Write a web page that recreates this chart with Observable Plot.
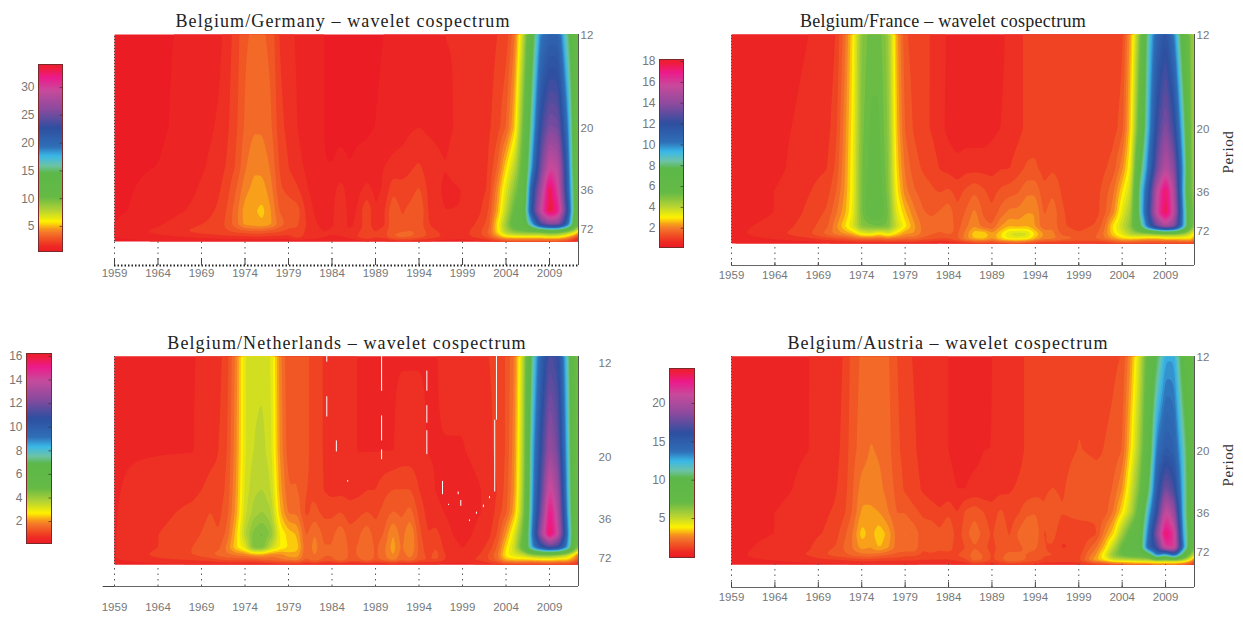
<!DOCTYPE html>
<html><head><meta charset="utf-8">
<script src="https://cdn.jsdelivr.net/npm/d3@7"></script>
<script src="https://cdn.jsdelivr.net/npm/@observablehq/plot@0.6"></script>
<style>
html,body{margin:0;background:#fff}
#page{position:relative;width:1243px;height:619px;overflow:hidden}
#page svg{position:absolute;background:transparent}
.ttl{position:absolute;font:18px "Liberation Serif",serif;letter-spacing:1.1px;color:#222;transform:translateX(-50%);white-space:nowrap;line-height:18px}
.per{position:absolute;font:15px "Liberation Serif",serif;letter-spacing:.6px;color:#333;transform:translate(-50%,-50%) rotate(-90deg);white-space:nowrap}
</style></head><body><div id="page"></div>
<script>
const years=[1959,1964,1968,1970,1971,1972,1973,1974,1975,1976,1977,1978,1979,1980,1981,1982,1983,1984,1985,1986,1987,1988,1989,1990,1991,1992,1993,1994,1995,1996,1997,1999,2001,2002,2003,2004,2005,2006,2007,2008,2009,2010,2011,2012,2012.33];
const periods=[12,20,28,36,50,66,80,95,110];
const periodTicks=[12,20,36,72];
const yearTicks=[1959,1964,1969,1974,1979,1984,1989,1994,1999,2004,2009];

const germany=[
[1,1,1.2,1.3,1.5, 2,2.6,3.4,3.6,3.6,3.3,2.2,1.9, 1.6,1.3,1.2,1.1,1,1,1,1,1,1, 1.1,1.2,1.2,1.3,1.3,1.4,1.5,1.7,1.7, 1.9,2,2.3, 2.5,4,8,14,19.5,21,21,16,12,11],
[1,1,1.3,1.6,1.8, 2.2,2.8,3.6,4,4,3.6,2.5,2.1, 1.7,1.4,1.2,1.1,1,1,1,1,1,1.1, 1.2,1.3,1.4,1.6,1.7,1.6,1.6,1.6,1.8, 2,2.2,2.6, 3.5,5.5,10.5,17,23.5,26,25.5,20,12,11],
[1,1.1,1.4,1.8,2, 2.4,3,4,4.6,4.5,4,2.8,2.3, 1.9,1.6,1.3,1.1,1.1,1.2,1.1,1.2,1.3,1.5, 1.7,1.9,2,2.2,2.4,2,1.8,1.7,1.9, 2.1,2.3,3.5, 5.8,8,11.5,19,25.5,30,29,21.5,12,12],
[1,1.2,1.6,2,2.2, 2.7,3.5,4.5,4.9,5,4.3,3,2.7, 2.4,1.8,1.4,1.2,1.4,2,1.3,1.5,1.9,1.5, 1.8,2.7,2.5,2.6,3,2.2,1.8,1.6,1.7, 2,2.4,4.5, 7,9.5,12,22,27.5,33.8,30,22,13,12],
[1,1.3,1.8,2.2,2.4, 3,3.9,5,5.2,5.5,4.7,3.4,3.3, 3.2,2.2,1.6,1.4,1.5,2.4,1.4,1.8,2.9,1.7, 2.2,3.5,2.8,3.1,3.6,2.3,1.8,1.7,1.7, 2.2,2.9,5, 8,11,13,23,29.5,34.2,32,23.5,13,12],
[1.1,1.6,2.2,2.4,2.6, 3.1,3.9,4.9,5,5.2,4.8,3.8,3.2, 3,2.3,1.8,1.5,1.6,2.2,1.5,1.9,2.7,1.8, 2.2,3.4,3,3,3.3,2.4,1.9,1.7,1.8, 2.5,3.2,6, 9,12,13,18,24,26,26,21,12,11],
[1.2,1.9,2.4,2.6,2.7, 2.8,3,3.1,3.3,3.2,3,2.9,2.6, 2.7,2.2,2,1.7,1.8,1.9,1.8,2.2,2.7,2.3, 2.7,3.4,3.5,3.6,3.4,2.8,2.4,2,2, 2.8,3.6,5.8, 8.5,9.5,10,10,10,11,10.5,9,7,5],
[1.1,1.4,1.7,1.8,1.9, 2,2,2,2.1,2.1,2,2,2, 2.6,2.1,2,1.8,1.6,1.6,1.9,2.4,3,2.5, 2.6,3.5,3.8,3.6,3.2,2.8,2.5,2.2,2, 2.6,3.2,4.5, 5.6,5.8,5.8,5.8,5.8,6,6,5,3,2],
[.9,1,1.1,1.1,1.1, 1.1,1.1,1.1,1.1,1.1,1.1,1.1,1.1, 1.1,1.1,1.1,1,1,1,1,1.1,1.2,1.1, 1.2,1.4,1.5,1.5,1.4,1.3,1.2,1.2,1.2, 1.3,1.5,1.8, 2.2,2.4,2.4,2.4,2.4,2.4,2.4,2.2,1.4,1]];

const france=[
[.6,.6,.8,.9,1.1, 1.9,3.1,5,5.5,5.5,4.8,2.6,1.5, 1.3,1.2,1.1,1,.7,.7,.6,.6,.6,.6, .7,.9,1,1.2,1.2,1.2,1.3,1.2,1.2, 1.2,1.2,1.25, 1.3,2.6,5,8.8,11,12,10.2,7,4.8,4.5],
[.6,.7,.9,1,1.3, 2.2,3.3,5.2,5.7,5.7,5,2.8,1.7, 1.4,1.2,1.1,.9,.7,.6,.6,.6,.6,.7, .8,.9,1,1.2,1.3,1.2,1.3,1.2,1.2, 1.2,1.2,1.3, 1.6,3,6,9.5,12.5,14,12.5,9,4.8,4.6],
[.6,.7,1,1.1,1.5, 2.3,3.4,5.3,5.8,5.8,5.1,3,2, 1.6,1.4,1.3,1.1,1,.9,1,1,1,1, 1.1,1.1,1.3,1.5,1.5,1.3,1.4,1.3,1.2, 1.2,1.4,1.6, 2.3,3.5,7.5,10.5,13.5,15.5,14,9.8,5,4.5],
[.6,.8,1.1,1.3,1.7, 2.4,3.4,5.3,5.9,5.9,5.2,3.2,2.2, 1.8,1.6,1.5,1.4,1.5,1.3,1.5,1.7,1.5,1.3, 1.5,1.6,1.7,2,2,1.5,1.7,1.4,1.2, 1.3,1.6,2, 3,4,8.5,11.5,15.5,17.8,15,9.5,5,4.8],
[.6,.8,1.2,1.5,2, 2.6,3.5,5.3,6,6,5.4,3.6,2.8, 2.2,1.8,1.7,1.8,2,1.5,1.8,2.2,1.7,1.5, 1.9,2.2,2.2,2.4,2.4,1.7,2,1.5,1.2, 1.3,1.7,2.3, 3.6,4.6,8.5,12,16,18,15.5,10,5.5,5],
[.7,.9,1.3,1.7,2.3, 3,3.8,5,5.2,5.4,5.2,4,3.2, 2.5,2,1.9,1.9,2,1.6,2,2.4,1.9,1.8, 2.4,2.7,2.6,2.7,2.4,1.8,2,1.5,1.3, 1.5,2,3.2, 4,5,7.5,11,13.5,15,14,10,5.5,4.6],
[.7,1,1.4,1.9,2.2, 2.4,2.7,3.4,3.6,3,3.6,3,2.4, 2.4,2,1.8,1.7,1.8,1.7,2.2,3,3.1,2.5, 3,3.8,4,3.9,3,2.4,2.2,1.7,1.5, 1.7,2.2,3, 3.6,4.4,4.6,4.6,4.8,5,5,4.6,3.6,3],
[.6,.8,1,1.2,1.3, 1.4,1.6,1.7,1.7,1.7,1.8,1.8,1.8, 1.8,1.6,1.5,1.4,1.4,1.7,2.3,2.7,2.8,2.4, 3,3.3,3.4,3.2,2.6,2.2,2.2,2,1.8, 1.8,2,2.4, 2.8,2.8,2.6,2.4,2.4,2.6,2.6,2.8,3,2],
[.4,.5,.5,.6,.6, .6,.6,.6,.6,.6,.6,.6,.6, .6,.6,.6,.5,.6,.6,.7,.9,.9,.9, 1,1.1,1.1,1,.9,.8,.8,.8,.8, .8,.9,1, 1.1,1.1,1,1,1,1,1,1,.9,.6]];

const netherlands=[
[.7,.7,.7,.8,.9, 1.2,2,3.3,3.5,3.5,3.3,2,1.3, 1.4,1.4,1.1,1,.8,.8,.8,.7,.7,.7, .7,.7,.7,.7,.7,.7,.7,.8,.8, .9,1,1.1, 1.3,1.9,3.8,7.5,10,11.5,11,8,5,4.6],
[.7,.7,.7,.9,1, 1.3,2.1,3.3,3.6,3.7,3.4,2.1,1.4, 1.5,1.4,1.1,1,.8,.8,.8,.7,.7,.7, .7,.7,.8,.8,.8,.7,.7,.7,.7, .8,.9,1.1, 1.3,2.1,4,8.4,11,13,12,8.5,5,4.6],
[.7,.8,.9,1.1,1.1, 1.4,2.2,3.4,3.8,3.9,3.6,2.3,1.6, 1.6,1.3,1.2,1,.9,.9,.9,.9,1,1, 1.2,1.3,1.3,1.3,1,.8,.7,.6,.6, .7,.8,1, 1.4,2.2,4.2,8.6,11.5,14.5,13,8.7,5.2,4.8],
[.7,.9,1.1,1.3,1.2, 1.5,2.3,3.5,4,4.2,3.9,2.5,1.8, 1.8,1.2,1.4,1.2,1.2,1.3,1.1,1.2,1.3,1.2, 1.4,1.6,1.5,1.7,1.2,.9,.8,.7,.6, .7,.8,1.1, 1.5,2.4,4.4,8.8,12,15.5,13.5,9,5.2,4.8],
[.7,1,1.2,1.4,1.3, 1.7,2.6,3.8,4.6,4.8,4.4,3,2.6, 2.4,1.5,1.9,1.5,1.5,1.8,1.4,1.5,1.8,1.4, 1.6,2.2,1.7,2.2,1.4,1,1.1,.8,.6, .8,.9,1.3, 2.2,3.3,5,9.2,13,16,14,9.5,5.3,5],
[.7,1,1.3,1.5,1.5, 2,2.7,3.2,4.7,4.7,3.6,3,2.7, 2.6,1.6,2,1.6,1.6,1.9,1.5,1.6,1.9,1.5, 1.8,2.3,1.8,2.2,1.5,1.1,1.3,.9,.7, .9,1.1,1.6, 2.7,3.6,5.5,8.8,10.5,11.5,11,9,5,4.5],
[.7,1.1,1.3,1.5,1.7, 1.8,1.9,2,2.2,2.2,2,2,2.3, 2.3,1.6,1.9,1.6,1.6,1.9,1.5,1.6,1.9,1.5, 1.8,2.2,1.7,2,1.5,1.2,1.4,1,.8, 1,1.3,1.8, 2.9,3.3,3.5,4.2,4.5,4.5,4.2,3.6,2.4,1.6],
[.7,.9,1,1.1,1.2, 1.3,1.3,1.3,1.3,1.5,1.6,1.8,1.9, 2,1.5,1.8,1.5,1.5,1.8,1.5,1.5,1.8,1.5, 1.7,2,1.6,1.8,1.4,1.3,1.3,1,.9, 1.1,1.3,1.7, 2.4,2.5,2.5,2.4,2.5,2.6,2.4,2.5,1.8,1.1],
[.5,.6,.6,.6,.6, .6,.6,.6,.6,.6,.6,.6,.6, .6,.6,.6,.5,.5,.5,.5,.5,.5,.5, .5,.5,.5,.5,.5,.5,.5,.5,.5, .6,.7,.8, .9,1,1,1,1,1,1,.9,.7,.5]];

const austria=[
[.7,.7,.8,.9,1, 1.3,1.9,2.2,2.3,2.3,2.2,1.7,1.4, 1.2,1.1,1,.9,.8,.7,.7,.7,.7,.8, .9,1,1.1,1.3,1.4,1.4,1.5,1.5,1.6, 1.5,1.5,1.6, 1.7,3,5,8,10.5,13,13,9.5,8,7.5],
[.7,.7,.8,1,1.1, 1.4,2,2.3,2.6,2.5,2.3,1.8,1.5, 1.3,1.1,1,.9,.8,.7,.7,.7,.8,.8, .9,1,1.1,1.3,1.4,1.5,1.6,1.5,1.7, 1.6,1.7,1.8, 2.1,3.9,6,9,14,15.5,15,12,8.5,8],
[.7,.7,.9,1.1,1.2, 1.5,2.1,2.8,2.8,2.7,2.4,2,1.6, 1.4,1.2,1,.9,.9,.8,.8,.9,.9,1, 1.1,1.2,1.3,1.4,1.5,1.6,1.7,1.6,2, 1.9,1.8,2.2, 3,4.9,7,10.5,15.5,18.5,17,12.5,8.5,8],
[.7,.8,1,1.2,1.3, 1.6,2.2,3.1,3.1,3,2.6,2.1,2.1, 1.8,1.6,1.5,1.3,1.6,1.2,1.8,2,1.7,1.4, 1.8,1.4,1.6,2,2.1,1.7,2.2,1.7,1.9, 1.8,1.9,2.6, 3.9,5.5,8,12.5,16.5,21.5,19.5,12.5,8.5,8],
[.7,.8,1.1,1.3,1.5, 2,2.6,3.7,3.2,3.8,3.3,2.4,2.6, 2.4,1.9,2,1.8,2.2,1.4,2,2.4,2,1.6, 2.1,1.6,2.2,2.6,2.5,1.6,1.9,1.3,1.3, 1.6,2.8,3.8, 6,8,9,14,19,24,22,13,9,8],
[.7,.9,1.2,1.6,1.7, 2.2,2.6,3.2,3,3.5,3.1,2.4,2.5, 2.5,1.7,1.9,1.8,1.9,1.4,1.7,2.1,1.8,1.5, 1.9,1.7,2,2.2,2.2,1.7,1.6,1.2,1.3, 2.5,3.6,5.5, 7.5,8.5,9,15,17,22,22,14,8,7],
[.7,1,1.3,1.7,1.9, 2,2.3,2.4,2.5,2.3,2.1,2,1.8, 1.8,1.6,1.6,1.5,1.5,1.7,1.9,2.4,2.1,1.6, 1.9,2.4,2.2,2.1,2,1.7,1.7,1.4,1.5, 3,4.5,6.5, 7.5,8,8,9,14,12,15,10,6,5],
[.7,.8,1,1.1,1.1, 1.2,1.3,1.4,1.4,1.3,1.3,1.3,1.3, 1.3,1.2,1.2,1.2,1.2,1.4,1.6,2.4,2.1,1.6, 2,2.6,2.5,2.1,1.9,1.6,1.6,1.5,1.6, 3.5,4,5, 5,5.2,5.5,5.5,6,6,6,5.5,3.5,1.5],
[.6,.6,.6,.6,.6, .6,.6,.6,.6,.6,.6,.6,.6, .6,.6,.6,.6,.6,.6,.7,.8,.8,.8, .9,1,1,1,.9,.8,.8,.8,.8, .9,1,1.2, 1.5,1.8,1.8,1.8,1.8,1.8,1.8,1.6,1.2,.8]];

// colour bar stops, bottom to top
const stopAt=[0,.03,.06,.10,.12,.16,.22,.29,.42,.46,.51,.56,.66,.76,.86,.93,.98,1];
const stopColor=["#ec1c24","#ee2a24","#f04a23","#f4762a","#f7941d","#fff200","#b5d334","#66ba46","#5cb848","#6cc4a8","#3ab8e8","#2f6fb8","#2e4fa0","#8a4a9e","#c84a9c","#ec1a8c","#ee1c3c","#ec2030"];

// white gaps in the Netherlands panel: year, period from, period to
const gapYear=[1989.7,1989.7,1989.7,1983.4,1983.4,1984.5,1994.9,1994.9,1994.9,2002.9,2002.7,1985.8,1996.7,1997.4,1998.5,1998.8,1999.8,2000.6,2001.4,2002.1];
const gapFrom=[11.9,16.1,20,12,14.5,18.8,12.8,15.2,17.6,11.9,16.5,25.6,25.8,32.7,28.6,31.3,40,36,33,30];
const gapTo=[14.1,18.8,21.5,12.3,16.2,20.3,14.1,16.8,20.7,16.5,28.6,26,29.4,33.2,29.4,33.5,41,37,34,30.7];

const xEnd=2012.33;
const panels=[
 {name:"Germany",rows:germany,title:"Belgium/Germany – wavelet cospectrum",tx:343,ty:12,cell:[0,0,620,300],x0:114,x1:578,top:34,bot:241,axis:265,lab:3,lo:.49,hi:34.15,
  bar:[38,64,62,251],barTicks:[5,10,15,20,25,30],dotted:true,up:7},
 {name:"France",rows:france,title:"Belgium/France – wavelet cospectrum",tx:943,ty:12,spacing:.25,cell:[620,0,623,300],x0:731,x1:1194,top:34,bot:243,axis:265,lab:5,lo:.15,hi:18.2,
  bar:[659,59,683,247],barTicks:[2,4,6,8,10,12,14,16,18],up:3,period:152},
 {name:"Netherlands",rows:netherlands,title:"Belgium/Netherlands – wavelet cospectrum",tx:347,ty:334,cell:[0,310,620,309],x0:114,x1:578,top:356,bot:564,axis:586,lab:5,lo:.14,hi:16.25,
  bar:[26,353,51,543],barTicks:[2,4,6,8,10,12,14,16],down:11,outTicks:true,stub:true,gaps:true},
 {name:"Austria",rows:austria,title:"Belgium/Austria – wavelet cospectrum",tx:948,ty:334,cell:[620,310,623,309],x0:731,x1:1194,top:356,bot:564,axis:587,lab:5,lo:-.08,hi:24.56,
  bar:[669,368,694,557],barTicks:[5,10,15,20],up:5,period:465}
];
const page=document.getElementById("page");
const tickFont={fontSize:11.5,fontFamily:"Liberation Sans, sans-serif",fill:"#777",stroke:"none"};

function colorOf(p){return {type:"linear",domain:stopAt.map(t=>p.lo+t*(p.hi-p.lo)),range:stopColor,clamp:true}}

// bilinear resampling of the rectangular year × period table
function bilinear(index,w,h,X,Y,V){
  const I=Array.from(index);
  const xs=[...new Set(I.map(i=>X[i]))].sort((a,b)=>a-b);
  const ys=[...new Set(I.map(i=>Y[i]))].sort((a,b)=>a-b);
  const grid=new Map(I.map(i=>[X[i]+"|"+Y[i],+V[i]]));
  const bx=d3.bisector(d=>d).right;
  const out=new Float64Array(w*h);
  const seg=(arr,v)=>{let a=Math.min(arr.length-2,Math.max(0,bx(arr,v)-1));let t=(v-arr[a])/(arr[a+1]-arr[a]);return [a,Math.max(0,Math.min(1,t))];};
  for(let j=0;j<h;j++){
    const [b,u]=seg(ys,j+.5);
    for(let i=0;i<w;i++){
      const [a,t]=seg(xs,i+.5);
      const g=(p,q)=>grid.get(xs[p]+"|"+ys[q]);
      out[j*w+i]=(1-u)*((1-t)*g(a,b)+t*g(a+1,b))+u*((1-t)*g(a,b+1)+t*g(a+1,b+1));
    }
  }
  return out;
}

for(const p of panels){
  const cells=[];
  p.rows.forEach((r,i)=>{
    if(r.length!==years.length) throw new Error(p.name+" row "+i+" has "+r.length);
    r.forEach((v,j)=>cells.push({year:years[j],period:periods[i],value:v}));
  });
  const [cl,ct,cw,ch]=p.cell;
  const fTop=1/12,fBot=1/110,k=(p.bot-p.top)/(fTop-fBot);
  const fAxis=fTop-(p.axis-p.top)/k;
  const marks=[
    Plot.contour(cells,{x:"year",y:d=>1/d.period,fill:"value",interpolate:bilinear,pixelSize:1,blur:1,
      thresholds:d3.range(p.lo,p.hi,(p.hi-p.lo)/56),x1:1959,x2:xEnd,y1:fBot,y2:fTop}),
    Plot.ruleX(yearTicks,{y1:fAxis,y2:fBot,stroke:"#555",strokeWidth:1,strokeDasharray:"1.5,4"}),
    Plot.ruleX([1959],{y1:fBot,y2:fTop,stroke:"#444",strokeWidth:1,strokeDasharray:"1,2"}),
    Plot.ruleX([xEnd],{y1:fAxis,y2:fTop,stroke:"#555",strokeWidth:1}),
    Plot.ruleY([fAxis],{x1:1959,x2:xEnd,stroke:p.dotted?"#222":"#666",strokeWidth:p.dotted?2:1,strokeDasharray:p.dotted?"1.5,2":null}),
    Plot.axisX(yearTicks,{anchor:"bottom",tickSize:p.down||0,tickPadding:p.lab,tickFormat:d=>String(d),label:null,stroke:"#666",...tickFont}),
    Plot.axisY(periodTicks.map(d=>1/d),{anchor:"right",tickSize:p.outTicks?12:0,tickPadding:p.outTicks?8:2,tickFormat:d=>String(Math.round(1/d)),label:null,stroke:"#666",
      dy:p.outTicks?7:1,...tickFont})
  ];
  if(p.up) marks.push(Plot.ruleX(yearTicks,{y1:fAxis,y2:fAxis+p.up/k,stroke:"#444",strokeWidth:1}));
  if(p.stub) marks.push(Plot.ruleY([fAxis],{x1:1957.7,x2:1959,stroke:"#444"}));
  if(p.gaps) marks.push(Plot.ruleX(gapYear,{x:d=>d,y1:(d,i)=>1/gapFrom[i],y2:(d,i)=>1/gapTo[i],stroke:"#fff",strokeWidth:1}));
  const svg=Plot.plot({width:cw,height:ch,marginLeft:p.x0-cl,marginRight:cl+cw-p.x1,marginTop:p.top-ct,marginBottom:ct+ch-p.axis,
    x:{domain:[1959,xEnd],axis:null},y:{domain:[fAxis,fTop],axis:null},color:colorOf(p),marks});
  svg.style.left=cl+"px";svg.style.top=ct+"px";page.appendChild(svg);

  const [bl,bt,br,bb]=p.bar;
  const barOffX=bl-24;
  const bar=Plot.plot({width:br-barOffX+2,height:bb-bt+12,marginLeft:24,marginRight:2,marginTop:6,marginBottom:6,
    x:{domain:[0,1],axis:null},y:{domain:[p.lo,p.hi],axis:null},color:colorOf(p),
    marks:[
      Plot.raster({x1:0,x2:1,y1:p.lo,y2:p.hi,fill:(x,y)=>y,pixelSize:1}),
      Plot.ruleY(p.barTicks,{x1:.9,x2:1,stroke:"#333",strokeOpacity:.7}),
      Plot.axisY(p.barTicks,{anchor:"left",tickSize:0,tickPadding:4,label:null,...tickFont,fontSize:12}),
      Plot.frame({stroke:"#7a2a2a"})
    ]});
  bar.style.left=barOffX+"px";bar.style.top=(bt-6)+"px";page.appendChild(bar);

  const t=document.createElement("div");t.className="ttl";t.textContent=p.title;t.style.left=p.tx+"px";t.style.top=p.ty+"px";
  if(p.spacing!=null)t.style.letterSpacing=p.spacing+"px";
  page.appendChild(t);
  if(p.period){const q=document.createElement("div");q.className="per";q.textContent="Period";q.style.left="1228px";q.style.top=p.period+"px";page.appendChild(q);}
}
</script></body></html>
